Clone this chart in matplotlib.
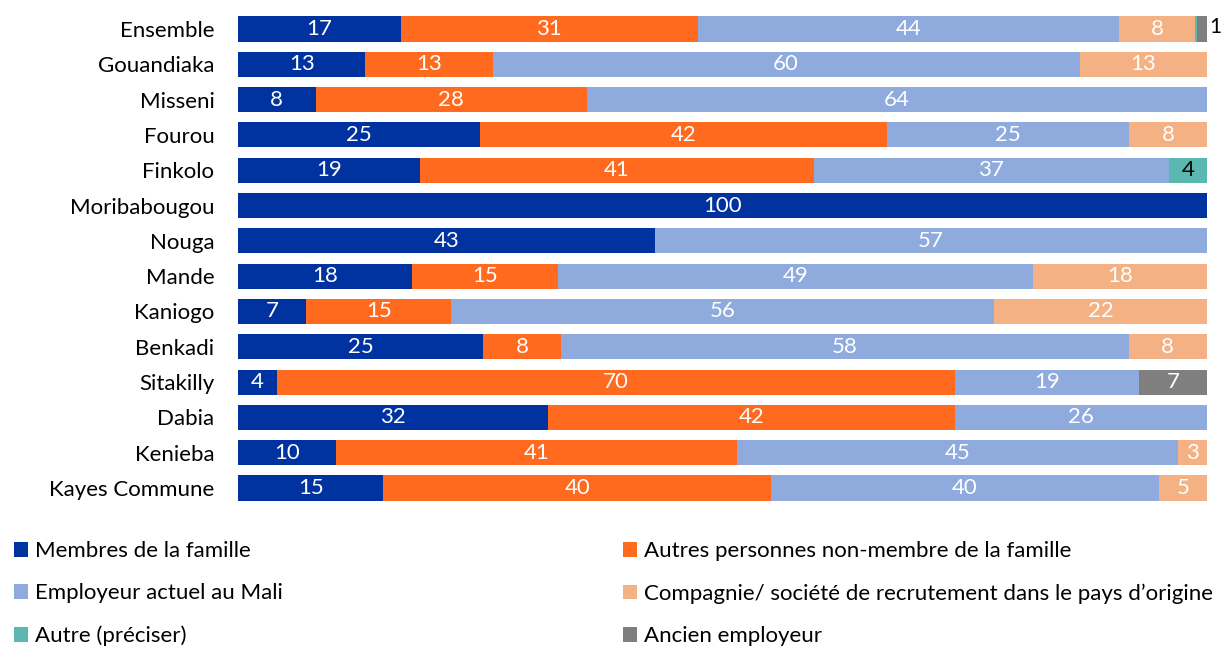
import numpy as np
import matplotlib.pyplot as plt
from matplotlib.patches import Patch

plt.rcParams['font.family'] = ['Lato', 'DejaVu Sans']

categories = ['Ensemble', 'Gouandiaka', 'Misseni', 'Fourou', 'Finkolo', 'Moribabougou',
              'Nouga', 'Mande', 'Kaniogo', 'Benkadi', 'Sitakilly', 'Dabia', 'Kenieba',
              'Kayes Commune']
famille = [17, 13, 8, 25, 19, 100, 43, 18, 7, 25, 4, 32, 10, 15]
autres = [31, 13, 28, 42, 41, 0, 0, 15, 15, 8, 70, 42, 41, 40]
employeur = [44, 60, 64, 25, 37, 0, 57, 49, 56, 58, 19, 26, 45, 40]
compagnie = [8, 13, 0, 8, 0, 0, 0, 18, 22, 8, 0, 0, 3, 5]
autre = [0.2, 0, 0, 0, 4, 0, 0, 0, 0, 0, 0, 0, 0, 0]
ancien = [1, 0, 0, 0, 0, 0, 0, 0, 0, 0, 7, 0, 0, 0]

series_names = ['Membres de la famille', 'Autres personnes non-membre de la famille',
                'Employeur actuel au Mali',
                'Compagnie/ société de recrutement dans le pays d\u2019origine',
                'Autre (préciser)', 'Ancien employeur']
series = [famille, autres, employeur, compagnie, autre, ancien]
colors = ['#0033A0', '#FF6A1F', '#8FAADC', '#F4B183', '#5BB8B0', '#7F7F7F']
text_colors = ['white', 'white', 'white', 'white', 'black', 'white']

data = np.array(series, dtype=float)
totals = data.sum(axis=0)
pct = data / totals * 100  # 100% stacked

fig = plt.figure(figsize=(12.21, 6.46), dpi=100)
ax = fig.add_axes([0.195, 0.2173, 0.7935, 0.7651])

y = np.arange(len(categories))
left = np.zeros(len(categories))
for k in range(len(series)):
    ax.barh(y, pct[k], left=left, height=0.71, color=colors[k], edgecolor='none')
    for i in range(len(categories)):
        v = data[k][i]
        if v >= 0.5:
            xc = left[i] + pct[k][i] / 2
            if k == 5 and i == 0:
                # tiny slice: label outside
                ax.text(100.25, y[i] - 0.05, f'{v:.0f}', ha='left', va='center',
                        fontsize=15, color='black', clip_on=False)
            else:
                ax.text(xc, y[i], f'{v:.0f}', ha='center', va='center',
                        fontsize=16, color=text_colors[k])
    left += pct[k]

ax.set_xlim(0, 100)
ax.set_ylim(len(categories) - 0.5, -0.5)
ax.set_yticks(y)
ax.set_yticklabels(categories, fontsize=16)
ax.tick_params(axis='y', length=0, pad=17)
ax.set_xticks([])
for s in ax.spines.values():
    s.set_visible(False)

handles = [Patch(facecolor=colors[k], edgecolor='none') for k in range(len(series))]
order = [0, 2, 4, 1, 3, 5]
fig.legend([handles[k] for k in order], [series_names[k] for k in order],
           ncol=2, loc='upper left', bbox_to_anchor=(0.004, 0.176),
           borderaxespad=0, frameon=False, fontsize=16,
           handlelength=0.65, handleheight=0.65,
           handletextpad=0.3, labelspacing=1.0, columnspacing=15.3)

fig.savefig('out.png', dpi=100)
